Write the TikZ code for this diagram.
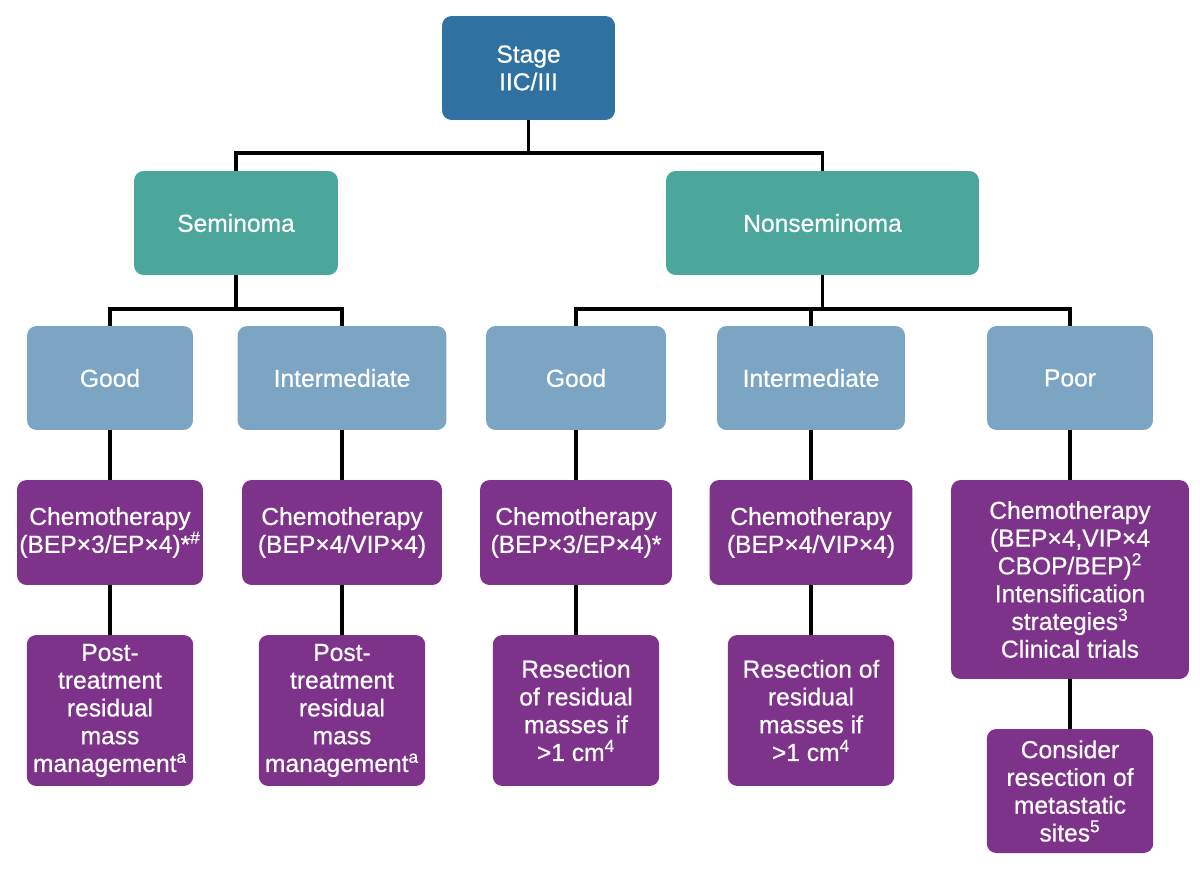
\documentclass[tikz,border=0pt]{standalone}
\usepackage{fontspec}
\setmainfont{Liberation Sans}[RawFeature={embolden=0.6}]
\usetikzlibrary{positioning,calc}
\definecolor{stageblue}{HTML}{2F71A0}
\definecolor{histteal}{HTML}{4BA69B}
\definecolor{riskblue}{HTML}{7BA5C2}
\definecolor{treatpurple}{HTML}{7E338A}

\begin{document}
\begin{tikzpicture}[
  x=0.02cm, y=-0.02cm,
  box/.style={rounded corners=5.5pt, text=white, align=center, inner sep=0pt,
              font=\fontsize{14pt}{15.8pt}\selectfont},
  stagebox/.style={box, fill=stageblue, minimum width=3.46cm, minimum height=2.08cm},
  histbox/.style={box, fill=histteal, minimum height=2.08cm},
  riskbox/.style={box, fill=riskblue, minimum height=2.08cm},
  chemobox/.style={box, fill=treatpurple, minimum height=2.1cm},
  nextbox/.style={box, fill=treatpurple, minimum width=3.33cm, minimum height=3.02cm},
  link/.style={draw=black, line width=2pt},
]
\useasboundingbox (0,0) rectangle (1200,869);

% ---------- stage ----------
\node[stagebox] (stage) at (528.5,68) {Stage\\IIC/III};

% ---------- histology ----------
\node[histbox, minimum width=4.08cm] (sem) at (236,223) {Seminoma};
\node[histbox, minimum width=6.26cm] (non) at (822.5,223) {Nonseminoma};

% ---------- risk groups ----------
\def\yrisk{378}
\node[riskbox, minimum width=3.32cm] (semgood) at (110,\yrisk)  {Good};
\node[riskbox, minimum width=4.18cm] (semint)  at (342,\yrisk)  {Intermediate};
\node[riskbox, minimum width=3.6cm]  (nongood) at (576,\yrisk)  {Good};
\node[riskbox, minimum width=3.76cm] (nonint)  at (811,\yrisk)  {Intermediate};
\node[riskbox, minimum width=3.32cm] (poor)    at (1070,\yrisk) {Poor};

% ---------- chemotherapy ----------
\def\ychemo{532.5}
\node[chemobox, minimum width=3.72cm] (semgoodchemo) at (110,\ychemo)
  {Chemotherapy\\(BEP×3/EP×4)*\textsuperscript{\#}};
\node[chemobox, minimum width=4.0cm] (semintchemo) at (342,\ychemo)
  {Chemotherapy\\(BEP×4/VIP×4)};
\node[chemobox, minimum width=3.84cm] (nongoodchemo) at (576,\ychemo)
  {Chemotherapy\\(BEP×3/EP×4)*};
\node[chemobox, minimum width=4.06cm] (nonintchemo) at (811,\ychemo)
  {Chemotherapy\\(BEP×4/VIP×4)};
\node[chemobox, minimum width=4.76cm, minimum height=3.98cm] (poorchemo) at (1070,579.5)
  {Chemotherapy\\(BEP×4,VIP×4\\CBOP/BEP)\textsuperscript{2}\\Intensification\\
   strategies\textsuperscript{3}\\Clinical trials};

% ---------- after chemotherapy ----------
\def\ynext{710.5}
\node[nextbox] (semgoodnext) at (110,\ynext)
  {Post-\\treatment\\residual\\mass\\management\textsuperscript{a}};
\node[nextbox] (semintnext) at (342,\ynext)
  {Post-\\treatment\\residual\\mass\\management\textsuperscript{a}};
\node[nextbox] (nongoodnext) at (576,\ynext)
  {Resection\\of residual\\masses if\\>1 cm\textsuperscript{4}};
\node[nextbox] (nonintnext) at (811,\ynext)
  {Resection of\\residual\\masses if\\>1 cm\textsuperscript{4}};
\node[nextbox, minimum height=2.48cm] (poornext) at (1070,791)
  {Consider\\resection of\\metastatic\\sites\textsuperscript{5}};

% ---------- connectors ----------
\coordinate (stagebus) at (528.5,153);
\coordinate (sembus) at (236,309);
\coordinate (nonbus) at (822.5,309);

\draw[link] (stage.south) -- (stagebus);
\draw[link] (sem.north) |- (stagebus) -| (non.north);

\draw[link] (sem.south) -- (sembus);
\draw[link] (semgood.north) |- (sembus) -| (semint.north);

\draw[link] (non.south) -- (nonbus);
\draw[link] (nongood.north) |- (nonbus) -| (poor.north);
\draw[link] (nonint.north) -- (nonint.north |- nonbus);

\foreach \r in {semgood,semint,nongood,nonint,poor} {
  \draw[link] (\r.south) -- (\r chemo.north);
  \draw[link] (\r chemo.south) -- (\r next.north);
}

\end{tikzpicture}
\end{document}
